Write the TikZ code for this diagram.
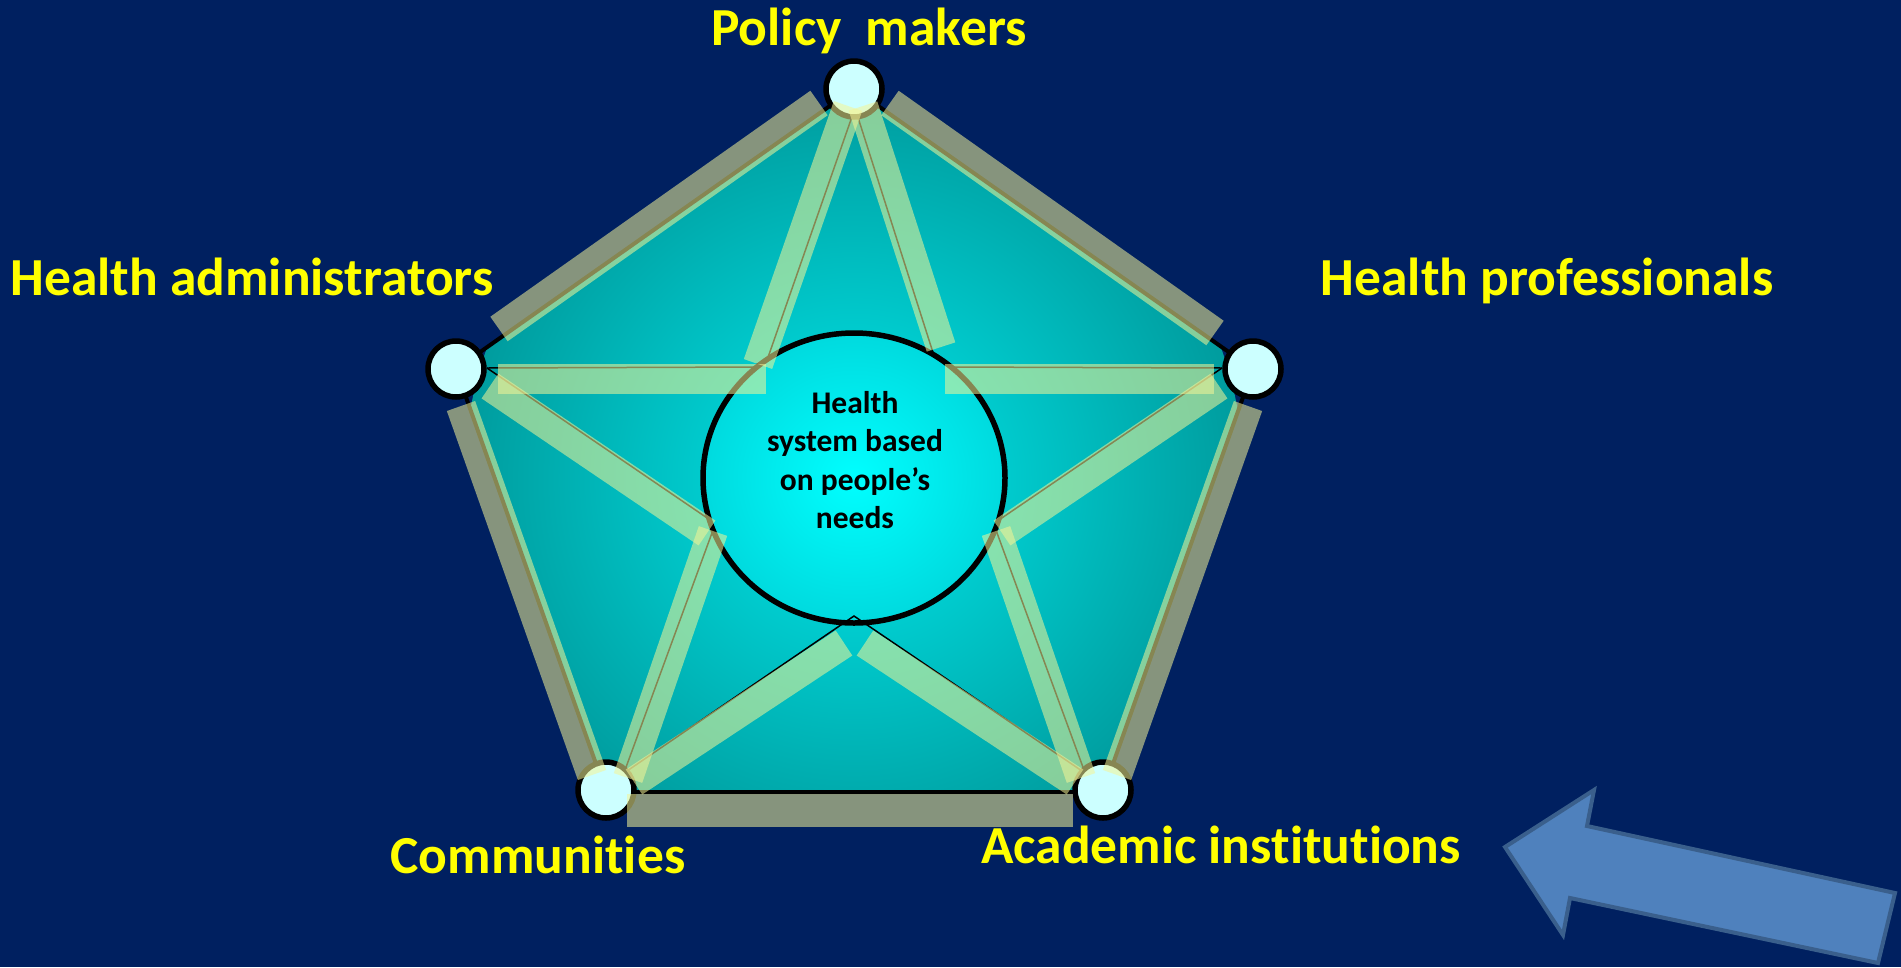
\documentclass[tikz,border=0pt]{standalone}
\usepackage{fontspec}
\setmainfont{Carlito}[Ligatures=NoCommon]
\usetikzlibrary{shapes.geometric}
\definecolor{navy}{RGB}{0,32,96}
\definecolor{tealout}{RGB}{0,156,158}
\definecolor{tealin}{RGB}{0,232,235}
\definecolor{cyanin}{RGB}{0,255,255}
\definecolor{cyanout}{RGB}{0,218,222}
\definecolor{vtxfill}{RGB}{204,255,255}
\definecolor{bandcol}{RGB}{245,245,150}
\definecolor{lblyellow}{RGB}{255,255,0}
\definecolor{arrowfill}{RGB}{79,129,189}
\definecolor{arrowedge}{RGB}{58,95,140}
\tikzset{
  vtxc/.style={circle, draw=black, line width=5.5pt, fill=vtxfill, minimum size=56pt, inner sep=0pt},
  thinline/.style={draw=black, line width=1.5pt},
  band/.style={draw=bandcol, draw opacity=0.55, line width=30pt, line cap=butt},
  lbl/.style={text=lblyellow, font=\fontsize{53.5}{60}\selectfont\bfseries, anchor=base, inner sep=0pt},
  hubtxt/.style={text=black, font=\fontsize{31.5}{38.3}\selectfont\bfseries, align=center, inner sep=0pt}
}
\begin{document}
\begin{tikzpicture}[x=1pt,y=-1pt]
\fill[navy] (0,0) rectangle (1901,967);
\useasboundingbox (0,0) rectangle (1901,967);
% vertices
\coordinate (T) at (854,89);
\coordinate (L) at (456,369);
\coordinate (R) at (1253,369);
\coordinate (BL) at (606,790);
\coordinate (BR) at (1103,790);
\coordinate (BLp) at (606,792);
\coordinate (BRp) at (1103,792);
% pentagon
\begin{scope}
\clip (T) -- (R) -- (BRp) -- (BLp) -- (L) -- cycle;
\shade[inner color=tealin, outer color=tealout] (854,480) circle (390);
\end{scope}
\draw[line width=4pt, line join=round] (T) -- (R) -- (BRp) -- (BLp) -- (L) -- cycle;
% star anchors
\coordinate (Ta) at (855,108);
\coordinate (La) at (487,368);
\coordinate (Ra) at (1222,368);
\coordinate (BLa) at (625,770);
\coordinate (BRa) at (1084,770);
\coordinate (E1) at (765,366);
\coordinate (E2) at (936,362);
\coordinate (E3) at (762,367);
\coordinate (E4) at (947,367);
\coordinate (E5) at (716,524);
\coordinate (E6) at (993,524);
\coordinate (E7) at (716,522);
\coordinate (E8) at (993,522);
\draw[thinline] (Ta) -- (E1);
\draw[thinline] (Ta) -- (E2);
\draw[thinline] (La) -- (E3);
\draw[thinline] (Ra) -- (E4);
\draw[thinline] (La) -- (E5);
\draw[thinline] (Ra) -- (E6);
\draw[thinline] (BLa) -- (E7);
\draw[thinline] (BRa) -- (E8);
% hub
\node[ellipse, draw=black, line width=5.5pt, inner color=cyanin, outer color=cyanout, shading=radial,
      minimum width=302pt, minimum height=290pt, inner sep=0pt] (hub) at (854,478) {};
% V lines
\coordinate (BLv) at (627,771);
\coordinate (Apex) at (854,616);
\coordinate (BRv) at (1082,771);
\draw[thinline, line join=miter] (BLv) -- (Apex) -- (BRv);
% vertex circles
\node[vtxc] (nT) at (T) {};
\node[vtxc] (nL) at (L) {};
\node[vtxc] (nR) at (R) {};
\node[vtxc] (nBL) at (BL) {};
\node[vtxc] (nBR) at (BR) {};
% bands on pentagon sides
\draw[band] (499,329) -- (819,103);
\draw[band] (1215,333) -- (890,103);
\draw[band] (461,406) -- (592,775);
\draw[band] (1248,406) -- (1117,775);
\draw[band, line width=33pt] (627,810) -- (1073,810);
% bands on star segments
\draw[band] (848,106) -- (758,364);
\draw[band] (863,106) -- (941,347);
\draw[band] (498,378.5) -- (766,378.5);
\draw[band] (945,378.5) -- (1214,378.5);
\draw[band] (490,386) -- (707,533);
\draw[band] (1219,386) -- (1002,533);
\draw[band] (628,778) -- (713,531);
\draw[band] (1081,778) -- (996,531);
\draw[band] (634,782) -- (844,643);
\draw[band] (1075,782) -- (865,643);
% hub text
\node[hubtxt] (hubtext) at (855,460) {Health\\system based\\on people’s\\needs};
% labels
\node[lbl] (pm) at (869,45) {Policy\ \ makers};
\node[lbl] (ha) at (252,295) {Health administrators};
\node[lbl] (hp) at (1547,295) {Health professionals};
\node[lbl] (co) at (538,873) {Communities};
\node[lbl] (ai) at (1221,863) {Academic institutions};
% arrow
\draw[line width=4pt, draw=arrowedge, fill=arrowfill, line join=miter]
  (1505,847) -- (1594,790) -- (1587,826) -- (1895,893) -- (1878,963) -- (1570,898) -- (1563,935) -- cycle;
\end{tikzpicture}
\end{document}
